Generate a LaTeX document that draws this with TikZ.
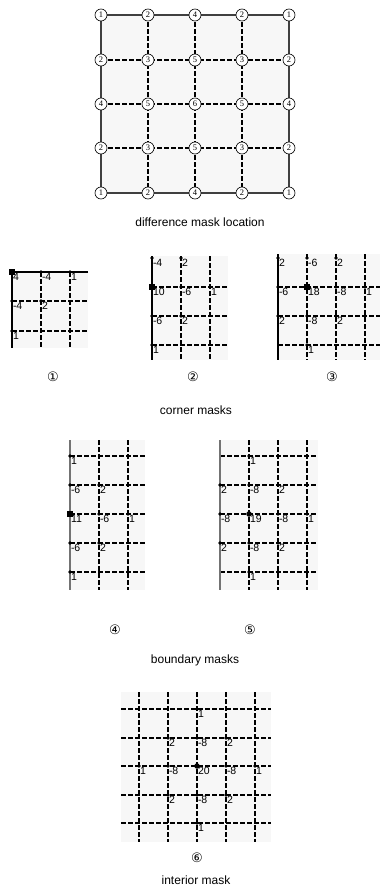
\documentclass[tikz,border=0pt]{standalone}
\usepackage{fontspec}
\setmainfont{Liberation Sans}
\newfontfamily\serifnum{Liberation Serif}
\newfontfamily\circfont{DejaVu Sans}
\begin{document}
\begin{tikzpicture}[x=1pt,y=-1pt,
  bgc/.style={fill=black!3,draw=none},
  dline/.style={draw=black,dash pattern=on 4.5pt off 2.5pt,line width=1.6pt},
  sline/.style={draw=black,line width=1.1pt},
  gline/.style={draw=black!55,line width=1.3pt},
  dotm/.style={circle,fill=black,inner sep=0pt,minimum size=3.8pt},
  bigm/.style={circle,fill=black,inner sep=0pt,minimum size=5.5pt},
  sqm/.style={rectangle,fill=black,inner sep=0pt,minimum size=5.5pt},
  val/.style={anchor=north west,inner sep=0.8pt,font=\fontsize{10.5}{10.5}\selectfont},
  loc/.style={circle,draw,fill=white,inner sep=0pt,minimum size=12pt,line width=0.6pt,font=\serifnum\fontsize{8.5}{8.5}\selectfont},
  captxt/.style={font=\fontsize{12}{12}\selectfont},
  cnum/.style={font=\circfont\fontsize{13}{13}\selectfont}]
\useasboundingbox (0,0) rectangle (380,894);

% ---------- top grid ----------
\foreach \i/\x in {0/101,1/148,2/195,3/242,4/289}
  \foreach \j/\y in {0/15,1/60,2/104,3/148,4/193}
    \coordinate (g\i\j) at (\x,\y);
\fill[bgc] (g00) rectangle (g44);
\foreach \k in {1,2,3} {
  \draw[dline] (g\k0) -- (g\k4);
  \draw[dline] (g0\k) -- (g4\k);
}
\draw[draw=black!75,line width=1.2pt] (g00) rectangle (g44);
\foreach \j/\row in {0/{1,2,4,2,1},1/{2,3,5,3,2},2/{4,5,6,5,4},3/{2,3,5,3,2},4/{1,2,4,2,1}} {
  \foreach \v [count=\c from 0] in \row {
    \node[loc] (n\c\j) at (g\c\j) {\v};
  }
}
\node[captxt] (capTop) at (200,222) {difference mask location};

% ---------- mask 1 ----------
\fill[bgc] (12,272) rectangle (88,348);
\draw[dline] (41,272) -- (41,348);
\draw[dline] (70,272) -- (70,348);
\draw[dline] (12,301) -- (88,301);
\draw[dline] (12,331) -- (88,331);
\draw[sline] (88,272) -- (12,272) -- (12,348);
\node[sqm] (a0) at (12,272) {};
\node[val] (la0) at (12,272) {4};
\foreach \x/\y/\v [count=\k] in {41/272/-4,70/272/1,12/301/-4,41/301/2,12/331/1} {
  \node[dotm] (a\k) at (\x,\y) {};
  \node[val] (la\k) at (\x,\y) {\v};
}
\node[cnum] (c1) at (53,377) {①};

% ---------- mask 2 ----------
\fill[bgc] (152,256) rectangle (228,360);
\draw[dline] (181,256) -- (181,360);
\draw[dline] (210,256) -- (210,360);
\draw[dline] (152,287) -- (228,287);
\draw[dline] (152,316) -- (228,316);
\draw[dline] (152,345) -- (228,345);
\draw[sline] (152,256) -- (152,360);
\node[sqm] (b0) at (152,287) {};
\node[val] (lb0) at (152,287) {10};
\foreach \x/\y/\v [count=\k] in {152/258/-4,181/258/2,181/287/-6,210/287/1,152/316/-6,181/316/2,152/345/1} {
  \node[dotm] (b\k) at (\x,\y) {};
  \node[val] (lb\k) at (\x,\y) {\v};
}
\node[cnum] (c2) at (193,377) {②};

% ---------- mask 3 ----------
\fill[bgc] (278,254) rectangle (380,360);
\draw[dline] (307,254) -- (307,360);
\draw[dline] (336,254) -- (336,360);
\draw[dline] (365,254) -- (365,360);
\draw[dline] (278,287) -- (380,287);
\draw[dline] (278,316) -- (380,316);
\draw[dline] (278,345) -- (380,345);
\draw[sline] (278,254) -- (278,360);
\node[sqm] (d0) at (307,287) {};
\node[val] (ld0) at (307,287) {18};
\foreach \x/\y/\v [count=\k] in {278/258/2,307/258/-6,336/258/2,278/287/-6,336/287/-8,365/287/1,278/316/2,307/316/-8,336/316/2,307/345/1} {
  \node[dotm] (d\k) at (\x,\y) {};
  \node[val] (ld\k) at (\x,\y) {\v};
}
\node[cnum] (c3) at (332,377) {③};

\node[captxt] (capCorner) at (196,410) {corner masks};

% ---------- mask 4 ----------
\fill[bgc] (70,440) rectangle (145,590);
\draw[dline] (99,440) -- (99,590);
\draw[dline] (128,440) -- (128,590);
\foreach \y in {456,485,514,543,572}
  \draw[dline] (70,\y) -- (145,\y);
\draw[gline] (70,440) -- (70,590);
\node[sqm] (e0) at (70,514) {};
\node[val] (le0) at (70,514) {11};
\foreach \x/\y/\v [count=\k] in {70/456/1,70/485/-6,99/485/2,99/514/-6,128/514/1,70/543/-6,99/543/2,70/572/1} {
  \node[dotm] (e\k) at (\x,\y) {};
  \node[val] (le\k) at (\x,\y) {\v};
}
\node[cnum] (c4) at (115,630) {④};

% ---------- mask 5 ----------
\fill[bgc] (220,440) rectangle (318,590);
\draw[dline] (249,440) -- (249,590);
\draw[dline] (278,440) -- (278,590);
\draw[dline] (307,440) -- (307,590);
\foreach \y in {456,485,514,543,572}
  \draw[dline] (220,\y) -- (318,\y);
\draw[gline] (220,440) -- (220,590);
\node[bigm] (f0) at (249,514) {};
\node[val] (lf0) at (249,514) {19};
\foreach \x/\y/\v [count=\k] in {249/456/1,220/485/2,249/485/-8,278/485/2,220/514/-8,278/514/-8,307/514/1,220/543/2,249/543/-8,278/543/2,249/572/1} {
  \node[dotm] (f\k) at (\x,\y) {};
  \node[val] (lf\k) at (\x,\y) {\v};
}
\node[cnum] (c5) at (250,630) {⑤};

\node[captxt] (capBoundary) at (195,660) {boundary masks};

% ---------- mask 6 ----------
\fill[bgc] (121,692) rectangle (271,842);
\foreach \x in {139,168,197,226,255}
  \draw[dline] (\x,692) -- (\x,842);
\foreach \y in {709,738,766,795,823}
  \draw[dline] (121,\y) -- (271,\y);
\node[bigm] (h0) at (197,766) {};
\node[val] (lh0) at (197,766) {20};
\foreach \x/\y/\v [count=\k] in {197/709/1,168/738/2,197/738/-8,226/738/2,139/766/1,168/766/-8,226/766/-8,255/766/1,168/795/2,197/795/-8,226/795/2,197/823/1} {
  \node[dotm] (h\k) at (\x,\y) {};
  \node[val] (lh\k) at (\x,\y) {\v};
}
\node[cnum] (c6) at (197,858) {⑥};

\node[captxt] (capInterior) at (196,880) {interior mask};
\end{tikzpicture}
\end{document}
